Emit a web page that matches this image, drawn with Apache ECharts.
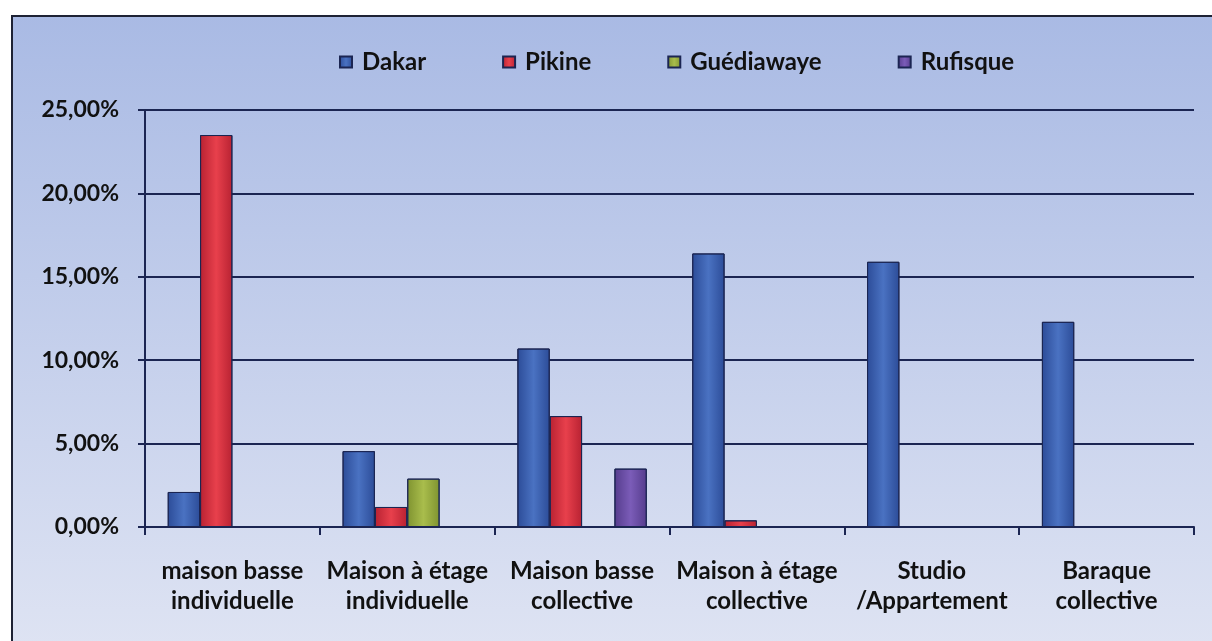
<!DOCTYPE html>
<html>
<head>
    <meta charset="UTF-8">
    <title>Logement par type</title>
    <script src="https://cdn.jsdelivr.net/npm/echarts@6/dist/echarts.min.js"></script>
    <style>
        body { margin: 0; background: #ffffff; }
    </style>
</head>
<body>
    <div id="main" style="width: 1212px;height:641px;"></div>
    <script type="text/javascript">
        // categories (two lines each)
        var categories = [
            'maison basse\nindividuelle',
            'Maison à étage\nindividuelle',
            'Maison basse\ncollective',
            'Maison à étage\ncollective',
            'Studio\n/Appartement',
            'Baraque\ncollective'
        ];
        // values in %
        var dakar      = [2.1, 4.55, 10.7, 16.4, 15.9, 12.3];
        var pikine     = [23.5, 1.2, 6.65, 0.4, null, null];
        var guediawaye = [null, 2.9, null, null, null, null];
        var rufisque   = [null, null, 3.5, null, null, null];

        var font = 'Lato, "Open Sans", sans-serif';

        function barStyle(edge, mid) {
            return {
                color: new echarts.graphic.LinearGradient(0, 0, 1, 0, [
                    { offset: 0, color: edge },
                    { offset: 0.5, color: mid },
                    { offset: 1, color: edge }
                ]),
                borderColor: '#1b2552',
                borderWidth: 1
            };
        }

        var myChart = echarts.init(document.getElementById('main'));

        var option = {
            backgroundColor: '#ffffff',
            graphic: [{
                type: 'rect',
                z: -10,
                shape: { x: 12, y: 16, width: 1210, height: 640 },
                style: {
                    fill: new echarts.graphic.LinearGradient(0, 0, 0, 1, [
                        { offset: 0, color: '#a9bae4' },
                        { offset: 1, color: '#dfe4f3' }
                    ]),
                    stroke: '#1e2234',
                    lineWidth: 2
                }
            }],
            legend: {
                top: 45,
                left: 334,
                itemWidth: 12,
                itemHeight: 11,
                itemGap: 76,
                icon: 'rect',
                textStyle: { fontFamily: font, fontWeight: 'bold', fontSize: 24, color: '#111111', padding: [0, 0, 0, 5] },
                data: ['Dakar', 'Pikine', 'Guédiawaye', 'Rufisque']
            },
            grid: { left: 145, right: 18, top: 110, bottom: 114 },
            xAxis: {
                type: 'category',
                data: categories,
                axisLine: { lineStyle: { color: '#1b2552', width: 2 } },
                axisTick: { show: true, length: 8, lineStyle: { color: '#1b2552', width: 2 } },
                axisLabel: {
                    interval: 0,
                    margin: 29,
                    fontFamily: font, fontWeight: 'bold', fontSize: 24,
                    lineHeight: 30, color: '#111111'
                }
            },
            yAxis: {
                type: 'value',
                min: 0, max: 25, interval: 5,
                axisLine: { show: true, lineStyle: { color: '#1b2552', width: 2 } },
                axisTick: { show: true, length: 7, lineStyle: { color: '#1b2552', width: 2 } },
                splitLine: { lineStyle: { color: '#1b2552', width: 2 } },
                axisLabel: {
                    margin: 26,
                    fontFamily: font, fontWeight: 'bold', fontSize: 23, color: '#111111',
                    formatter: function (v) { return v.toFixed(2).replace('.', ',') + '%'; }
                }
            },
            series: [
                { name: 'Dakar', type: 'bar', data: dakar, barGap: '0%', barCategoryGap: '26%',
                  itemStyle: barStyle('#2c4c98', '#4a72c2') },
                { name: 'Pikine', type: 'bar', data: pikine,
                  itemStyle: barStyle('#b82232', '#e8404c') },
                { name: 'Guédiawaye', type: 'bar', data: guediawaye,
                  itemStyle: barStyle('#7f9330', '#a9bd4c') },
                { name: 'Rufisque', type: 'bar', data: rufisque,
                  itemStyle: barStyle('#553c8c', '#7b5cb8') }
            ]
        };
        myChart.setOption(option);
    </script>
</body>
</html>
